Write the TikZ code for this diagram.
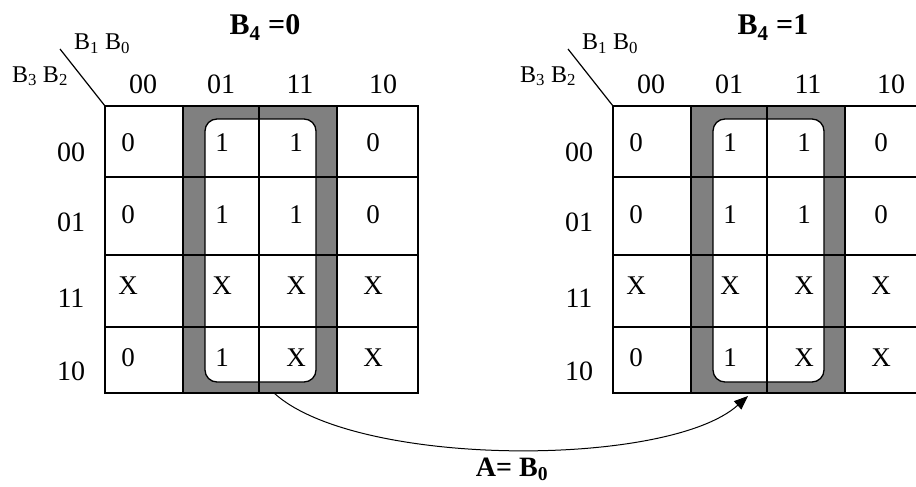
\documentclass[tikz,border=0pt]{standalone}
\usepackage{fontspec}
\setmainfont{Liberation Serif}
\usetikzlibrary{arrows.meta}
\definecolor{loopgray}{RGB}{128,128,128}

\begin{document}
\begin{tikzpicture}[
  x=1pt, y=-1pt,
  >={Triangle[length=14pt,width=11pt]},
  grid/.style={line width=1.3pt},
  entry/.style={font=\fontsize{27}{30}\selectfont, inner sep=0pt},
  head/.style={font=\fontsize{28}{30}\selectfont, inner sep=0pt},
  vars/.style={font=\fontsize{24}{26}\selectfont, inner sep=0pt, anchor=base},
  title/.style={font=\fontsize{30}{32}\selectfont\bfseries, inner sep=0pt, anchor=base},
  group/.style={draw, line width=1.3pt, fill=white, rounded corners=12pt}
]
  \useasboundingbox (0,0) rectangle (916,487);
  \clip (0,0) rectangle (916,487);

  % the two maps, B4=0 and B4=1
  \foreach \m/\dx/\bval in {L/0/0, R/508/1} {
    \begin{scope}[xshift=\dx pt]
      \fill[loopgray] (183,106) rectangle (337,393);
      \draw[group] (205,119) rectangle (316,382);
      \draw[grid] (105,106) rectangle (418,393);
      \foreach \gx in {183,259,337} \draw[grid] (\gx,106) -- (\gx,393);
      \foreach \gy in {177,255,327} \draw[grid] (105,\gy) -- (418,\gy);
      \draw[line width=1.2pt] (60,49) -- (105,106);

      \node[title] (\m-title) at (265,35) {B\textsubscript{4} =\bval};
      \node[vars] (\m-cols) at (102,50) {B\textsubscript{1} B\textsubscript{0}};
      \node[vars] (\m-rows) at (40,82) {B\textsubscript{3} B\textsubscript{2}};

      \foreach \lab/\cx [count=\i] in {00/143, 01/221, 11/300, 10/383}
        \node[head] (\m-c\i) at (\cx,84) {\lab};
      \foreach \lab/\ry [count=\i] in {00/152, 01/222, 11/298, 10/371}
        \node[head] (\m-r\i) at (71,\ry) {\lab};

      \foreach \ry/\a/\b/\c/\d [count=\i] in {143/0/1/1/0, 215/0/1/1/0, 286/X/X/X/X, 358/0/1/X/X} {
        \node[entry] (\m-\i-1) at (128,\ry) {\a};
        \node[entry] (\m-\i-2) at (222,\ry) {\b};
        \node[entry] (\m-\i-3) at (296,\ry) {\c};
        \node[entry] (\m-\i-4) at (373,\ry) {\d};
      }
    \end{scope}
  }

  \coordinate (L-out) at (274,393);
  \coordinate (R-in) at (748,396);
  \draw[->, line width=1pt] (L-out) .. controls (356,468) and (668,468) .. (R-in);
  \node[title, font=\fontsize{28}{30}\selectfont\bfseries] (rule) at (512,476) {A= B\textsubscript{0}};
\end{tikzpicture}
\end{document}
